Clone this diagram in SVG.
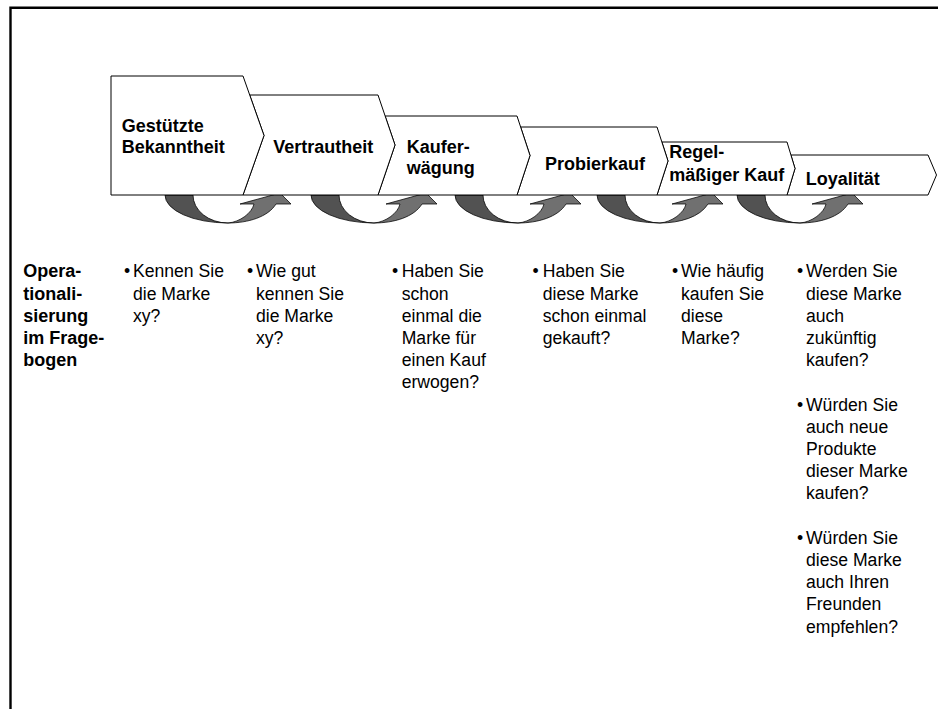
<svg xmlns="http://www.w3.org/2000/svg" xmlns:xlink="http://www.w3.org/1999/xlink" width="938" height="709" viewBox="0 0 938 709">
  <style>
    .stage { fill: #ffffff; stroke: #000000; stroke-width: 1; stroke-linejoin: miter; }
    .lbl { font-family: "Liberation Sans", Arial, sans-serif; font-size: 18px; font-weight: bold; fill: #000000; }
    .txt { font-family: "Liberation Sans", Arial, sans-serif; font-size: 17.6px; fill: #000000; }
    .back { fill: #525252; stroke: #000000; stroke-width: 0.75; }
    .front { fill: #707070; stroke: #000000; stroke-width: 0.75; stroke-linejoin: miter; }
    .frame { fill: none; stroke: #000000; stroke-width: 2.4; }
  </style>
  <defs>
    <!-- U-turn arrow: dark back face on the left, lighter face rising to the head on the right -->
    <g id="turn">
      <path class="back" d="M-63,0 A63,28 0 0 0 0,28 A35,28 0 0 1 -35,0 Z"/>
      <path class="front" d="M0,28 C20,28 40,22 48,9 L63,9 L52,-2 L12,9 L26,9 C24,18 12,27 0,28 Z"/>
    </g>
  </defs>

  <rect width="938" height="709" fill="#ffffff"/>
  <path class="frame" d="M10.5,709 V7.8 H938"/>

  <!-- connectors between the stages -->
  <g id="connectors">
    <use xlink:href="#turn" href="#turn" transform="translate(228,195)"/>
    <use xlink:href="#turn" href="#turn" transform="translate(374,195)"/>
    <use xlink:href="#turn" href="#turn" transform="translate(518,195)"/>
    <use xlink:href="#turn" href="#turn" transform="translate(660,195)"/>
    <use xlink:href="#turn" href="#turn" transform="translate(800,195)"/>
  </g>

  <!-- stage chevrons -->
  <g id="stage-loyalitaet">
    <path class="stage" d="M790.9,155 L928,155 L936.5,175 L928,195 L787,195 L795,168.5 Z"/>
    <text class="lbl" x="805.7" y="185">Loyalität</text>
  </g>
  <g id="stage-regelmaessiger-kauf">
    <path class="stage" d="M661.9,142 L787,142 L795,168.5 L787,195 L657,195 L668,161 Z"/>
    <text class="lbl" x="669.3" y="158.3">Regel-</text>
    <text class="lbl" x="669.3" y="180.5">mäßiger Kauf</text>
  </g>
  <g id="stage-probierkauf">
    <path class="stage" d="M520.6,127 L657,127 L668,161 L657,195 L517,195 L530,155.5 Z"/>
    <text class="lbl" x="545" y="169.5">Probierkauf</text>
  </g>
  <g id="stage-kauferwaegung">
    <path class="stage" d="M385.1,116 L517,116 L530,155.5 L517,195 L378,195 L395,145 Z"/>
    <text class="lbl" x="406.7" y="152.5">Kaufer-</text>
    <text class="lbl" x="406.7" y="174">wägung</text>
  </g>
  <g id="stage-vertrautheit">
    <path class="stage" d="M249.7,95 L378,95 L395,145 L378,195 L243,195 L264,135.5 Z"/>
    <text class="lbl" x="273.3" y="152.5">Vertrautheit</text>
  </g>
  <g id="stage-bekanntheit">
    <path class="stage" d="M111,76 L243,76 L264,135.5 L243,195 L111,195 Z"/>
    <text class="lbl" x="121.7" y="131.7">Gestützte</text>
    <text class="lbl" x="121.7" y="152.7">Bekanntheit</text>
  </g>

  <!-- row heading -->
  <g id="row-heading">
    <text class="lbl" x="23.3" y="277.3">Opera-</text>
    <text class="lbl" x="23.3" y="299.5">tionali-</text>
    <text class="lbl" x="23.3" y="321.7">sierung</text>
    <text class="lbl" x="23.3" y="343.9">im Frage-</text>
    <text class="lbl" x="23.3" y="366.1">bogen</text>
  </g>

  <!-- survey questions per stage -->
  <g id="q-bekanntheit">
    <text class="txt" x="124" y="277.3">•</text>
    <text class="txt" x="133" y="277.3">Kennen Sie</text>
    <text class="txt" x="133" y="299.5">die Marke</text>
    <text class="txt" x="133" y="321.7">xy?</text>
  </g>
  <g id="q-vertrautheit">
    <text class="txt" x="247" y="277.3">•</text>
    <text class="txt" x="256" y="277.3">Wie gut</text>
    <text class="txt" x="256" y="299.5">kennen Sie</text>
    <text class="txt" x="256" y="321.7">die Marke</text>
    <text class="txt" x="256" y="343.9">xy?</text>
  </g>
  <g id="q-kauferwaegung">
    <text class="txt" x="392" y="277.3">•</text>
    <text class="txt" x="401.7" y="277.3">Haben Sie</text>
    <text class="txt" x="401.7" y="299.5">schon</text>
    <text class="txt" x="401.7" y="321.7">einmal die</text>
    <text class="txt" x="401.7" y="343.9">Marke für</text>
    <text class="txt" x="401.7" y="366.1">einen Kauf</text>
    <text class="txt" x="401.7" y="388.3">erwogen?</text>
  </g>
  <g id="q-probierkauf">
    <text class="txt" x="532.5" y="277.3">•</text>
    <text class="txt" x="542.7" y="277.3">Haben Sie</text>
    <text class="txt" x="542.7" y="299.5">diese Marke</text>
    <text class="txt" x="542.7" y="321.7">schon einmal</text>
    <text class="txt" x="542.7" y="343.9">gekauft?</text>
  </g>
  <g id="q-regelmaessiger-kauf">
    <text class="txt" x="672" y="277.3">•</text>
    <text class="txt" x="681" y="277.3">Wie häufig</text>
    <text class="txt" x="681" y="299.5">kaufen Sie</text>
    <text class="txt" x="681" y="321.7">diese</text>
    <text class="txt" x="681" y="343.9">Marke?</text>
  </g>
  <g id="q-loyalitaet">
    <text class="txt" x="797" y="277.3">•</text>
    <text class="txt" x="806" y="277.3">Werden Sie</text>
    <text class="txt" x="806" y="299.5">diese Marke</text>
    <text class="txt" x="806" y="321.7">auch</text>
    <text class="txt" x="806" y="343.9">zukünftig</text>
    <text class="txt" x="806" y="366.1">kaufen?</text>
    <text class="txt" x="797" y="410.5">•</text>
    <text class="txt" x="806" y="410.5">Würden Sie</text>
    <text class="txt" x="806" y="432.7">auch neue</text>
    <text class="txt" x="806" y="454.9">Produkte</text>
    <text class="txt" x="806" y="477.1">dieser Marke</text>
    <text class="txt" x="806" y="499.3">kaufen?</text>
    <text class="txt" x="797" y="543.7">•</text>
    <text class="txt" x="806" y="543.7">Würden Sie</text>
    <text class="txt" x="806" y="565.9">diese Marke</text>
    <text class="txt" x="806" y="588.1">auch Ihren</text>
    <text class="txt" x="806" y="610.3">Freunden</text>
    <text class="txt" x="806" y="632.5">empfehlen?</text>
  </g>
</svg>
